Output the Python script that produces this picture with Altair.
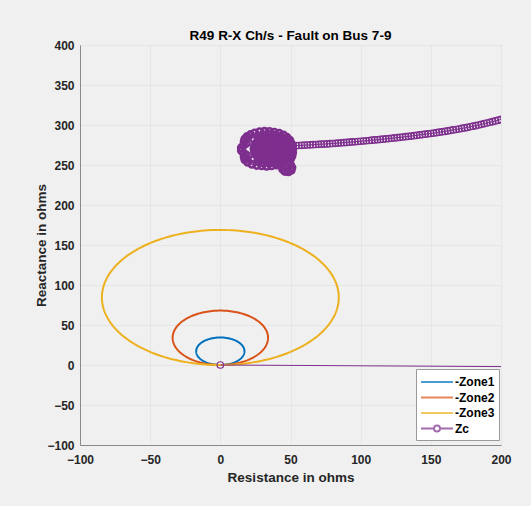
import altair as alt
import pandas as pd

# ---------------- data ----------------
zone_names = ["-Zone1", "-Zone2", "-Zone3"]
zone_colors = ["#0072BD", "#D95319", "#EDB120"]
zone_center_r = [0.0, 0.0, 0.0]
zone_center_x = [17.2, 34.0, 84.4]
zone_radius = [17.2, 34.0, 84.4]

zc_name = "Zc"
zc_color = "#7E2F8E"

# fault start at origin, jump far right (off chart), return along upper curve
zc_start_r = [0, 1500, 300, 250, 220, 206, 203]
zc_start_x = [0, -15, 360, 335, 318, 310.5, 308.6]

zc_curve_r = [200, 198, 196, 194, 192, 190, 188, 186, 184, 182, 180, 178, 176, 174, 172, 170,
              168, 166, 164, 162, 160, 158, 156, 154, 152, 150, 148, 146, 144, 142, 140, 138,
              136, 134, 132, 130, 128, 126, 124, 122, 120, 118, 116, 114, 112, 110, 108, 106,
              104, 102, 100, 98, 96, 94, 92, 90, 88, 86, 84, 82, 80, 78, 76, 74, 72, 70, 68,
              66, 64, 62, 60, 58, 56, 54, 52]
zc_curve_x = [307.0, 306.0, 305.1, 304.2, 303.4, 302.5, 301.7, 300.8, 300.0, 299.2, 298.5,
              297.8, 297.0, 296.3, 295.7, 295.0, 294.4, 293.8, 293.2, 292.6, 292.0, 291.5,
              291.0, 290.4, 289.9, 289.4, 289.0, 288.5, 288.0, 287.6, 287.1, 286.7, 286.2,
              285.8, 285.4, 285.0, 284.6, 284.2, 283.8, 283.4, 283.0, 282.7, 282.3, 282.0,
              281.6, 281.3, 281.0, 280.6, 280.3, 280.0, 279.7, 279.4, 279.1, 278.8, 278.5,
              278.2, 277.9, 277.7, 277.4, 277.1, 276.9, 276.7, 276.4, 276.2, 276.0, 275.8,
              275.6, 275.4, 275.2, 275.0, 274.8, 274.6, 274.4, 274.2, 274.0]

# settling swirl: bumpy outer loop with the small hook below it
zc_outer_r = [51, 50.5, 49.5, 47.5, 45, 42, 38.5, 35, 31.5, 28, 24.5, 21.5, 19, 17.5, 17,
              18.5, 16.5, 15, 15, 16.5, 18.5, 17, 17.5, 19.5, 22.5, 26, 29.5, 33, 36.5, 40,
              43, 44, 44.5, 46, 48.5, 50.5, 51, 50, 49, 50, 51, 51.5, 51.5]
zc_outer_x = [273, 277, 281, 284.5, 287.5, 289.5, 291, 291.8, 292, 291.5, 290, 288, 285.5,
              282.5, 279.5, 277, 274.5, 271.5, 268, 265, 262.5, 260, 256.5, 253.5, 251,
              249.5, 249, 248.5, 249, 250, 251, 248, 244.5, 242, 241.5, 243.5, 247, 250.5,
              254, 257.5, 261, 265, 269]

# second pass just inside the outer loop (left side stays open)
zc_mid_r = [23.7, 27, 30.9, 35, 39.1, 43, 46.3, 48.9, 50.5, 51, 50.5, 48.9, 46.3, 43, 39.1,
            35, 30.9, 27, 23.7]
zc_mid_x = [257.3, 254.4, 252.6, 252, 252.6, 254.4, 257.3, 261, 265.3, 270, 274.7, 279,
            282.7, 285.6, 287.4, 288, 287.4, 285.6, 282.7]

# settling swirl: loops closing in on the final impedance
zc_inner_r = [50.0, 49.6, 48.3, 46.2, 43.5, 40.4, 37.0, 33.6, 30.5, 27.8, 25.7, 24.4, 24.0,
              24.4, 25.7, 27.8, 30.5, 33.6, 37.0, 40.4, 43.5, 46.2, 48.3, 49.6,
              48.0, 47.6, 46.5, 44.8, 42.5, 39.8, 37.0, 34.2, 31.5, 29.2, 27.5, 26.4, 26.0,
              26.4, 27.5, 29.2, 31.5, 34.2, 37.0, 39.8, 42.5, 44.8, 46.5, 47.6,
              46, 45.3, 43.4, 40.4, 37, 33.6, 30.6, 28.7, 28, 28.7, 30.6, 33.6, 37, 40.4, 43.4, 45.3,
              44, 43.5, 42, 39.7, 37, 34.3, 32, 30.5, 30, 30.5, 32, 34.3, 37, 39.7, 42, 43.5,
              42, 41.3, 39.5, 37, 34.5, 32.7, 32, 32.7, 34.5, 37, 39.5, 41.3,
              39.5, 38.8, 37, 35.2, 34.5, 35.2, 37, 38.8, 37]
zc_inner_x = [270, 273.9, 277.5, 280.6, 283.0, 284.5, 285.0, 284.5, 283.0, 280.6, 277.5, 273.9,
              270, 266.1, 262.5, 259.4, 257.0, 255.5, 255.0, 255.5, 257.0, 259.4, 262.5, 266.1,
              270, 273.2, 276.3, 278.8, 280.8, 282.1, 282.5, 282.1, 280.8, 278.8, 276.3, 273.2,
              270, 266.8, 263.8, 261.2, 259.2, 257.9, 257.5, 257.9, 259.2, 261.2, 263.8, 266.8,
              270, 273.8, 277.1, 279.2, 280, 279.2, 277.1, 273.8, 270, 266.2, 262.9, 260.8, 260,
              260.8, 262.9, 266.2,
              270, 272.9, 275.3, 276.9, 277.5, 276.9, 275.3, 272.9, 270, 267.1, 264.7, 263.1,
              262.5, 263.1, 264.7, 267.1,
              270, 272.5, 274.3, 275, 274.3, 272.5, 270, 267.5, 265.7, 265, 265.7, 267.5,
              270, 271.8, 272.5, 271.8, 270, 268.2, 267.5, 268.2, 270]

x_ticks = [-100, -50, 0, 50, 100, 150, 200]
y_ticks = [-100, -50, 0, 50, 100, 150, 200, 250, 300, 350, 400]

legend_names = zone_names + [zc_name]
legend_colors = zone_colors + [zc_color]

# ---------------- styling ----------------
FONT = "Liberation Sans"
TXT = "#262626"
AX = "#8a8a8a"
GRID = "#e6e6e6"

x_scale = alt.Scale(domain=[-100, 200], nice=False, zero=False)
y_scale = alt.Scale(domain=[-100, 400], nice=False, zero=False)

x_axis = alt.Axis(values=x_ticks, title="Resistance in ohms", ticks=False, labelPadding=9,
                  titlePadding=5, labelOverlap=False, labelFlush=False)
y_axis = alt.Axis(values=y_ticks, title="Reactance in ohms", ticks=False, labelPadding=6,
                  titlePadding=-2, labelOverlap=False, labelFlush=False)

X_ENC = alt.X("R:Q", scale=x_scale, axis=x_axis)
Y_ENC = alt.Y("X:Q", scale=y_scale, axis=y_axis)

# ---------------- zone circles ----------------
layers = []
for name, col, cx, cy, r in zip(zone_names, zone_colors, zone_center_r, zone_center_x, zone_radius):
    circ = (
        alt.Chart(alt.sequence(0, 362, 2, as_="deg"))
        .transform_calculate(
            R=f"{cx} + {r}*cos(datum.deg*PI/180)",
            X=f"{cy} + {r}*sin(datum.deg*PI/180)",
        )
        .mark_line(color=col, strokeWidth=2, clip=True)
        .encode(x=X_ENC, y=Y_ENC, order=alt.Order("deg:Q"))
    )
    layers.append(circ)

# ---------------- Zc trajectory ----------------
path_r = zc_start_r + zc_curve_r
path_x = zc_start_x + zc_curve_x
swirl_r = zc_outer_r + zc_mid_r + zc_inner_r
swirl_x = zc_outer_x + zc_mid_x + zc_inner_x
all_r = path_r + swirl_r
all_x = path_x + swirl_x
zc_df = pd.DataFrame({"R": all_r, "X": all_x, "i": list(range(len(all_r))),
                      "part": ["path"] * len(path_r) + ["swirl"] * len(swirl_r)})

zc_line = alt.Chart(zc_df).mark_line(color=zc_color, strokeWidth=1, clip=True).encode(
    x=X_ENC, y=Y_ENC, order=alt.Order("i:Q"),
)
zc_pts = (
    alt.Chart(zc_df)
    .transform_filter("datum.part == 'path'")
    .mark_point(shape="circle", filled=False, color=zc_color, size=42, strokeWidth=1.2,
                opacity=1, clip=True)
    .encode(x=X_ENC, y=Y_ENC)
)
zc_swirl = (
    alt.Chart(zc_df)
    .transform_filter("datum.part == 'swirl'")
    .mark_point(shape="circle", filled=False, color=zc_color, size=42, strokeWidth=2.6,
                opacity=1, clip=True)
    .encode(x=X_ENC, y=Y_ENC)
)
layers += [zc_line, zc_pts, zc_swirl]

# ---------------- legend (entries only, no drawn data) ----------------
line_path = "M-2,0H2"
zc_path = ("M-2,0H-0.375M0.375,0H2M0.375,0A0.375,0.375,0,1,1,-0.375,0"
           "A0.375,0.375,0,1,1,0.375,0")
legend_df = pd.DataFrame({"series": legend_names})
leg = alt.Legend(title=None, orient="none", legendX=336, legendY=324, padding=4,
                 strokeColor="#9a9a9a", fillColor="white", symbolSize=256,
                 symbolOffset=8, labelOffset=9, rowPadding=0.5, symbolStrokeWidth=2,
                 labelFont=FONT, labelFontSize=12, labelFontWeight="bold", labelColor="#000000",
                 cornerRadius=0)
legend_layer = (
    alt.Chart(legend_df)
    .transform_filter("false")
    .mark_point(filled=False, clip=True)
    .encode(
        color=alt.Color("series:N", scale=alt.Scale(domain=legend_names, range=legend_colors), legend=leg),
        shape=alt.Shape("series:N", scale=alt.Scale(domain=legend_names,
                                                    range=[line_path] * 3 + [zc_path]), legend=leg),
    )
)
layers.append(legend_layer)

chart = (
    alt.layer(*layers)
    .properties(
        width=421,
        height=400,
        title=alt.Title("R49 R-X Ch/s - Fault on Bus 7-9", font=FONT, fontSize=13.5,
                        fontWeight="bold", color="#000000", offset=-3, anchor="middle",
                        frame="group"),
        autosize=alt.AutoSizeParams(type="none"),
        padding={"left": 80, "top": 45, "right": 30, "bottom": 61},
        background="#f0f0f0",
    )
    .configure_view(stroke=AX, fill="white", strokeWidth=1)
    .configure_axis(
        labelFont=FONT, labelFontSize=12, labelFontWeight="bold", labelColor=TXT,
        titleFont=FONT, titleFontSize=13.5, titleFontWeight="bold", titleColor=TXT,
        domainColor=AX, gridColor=GRID, gridWidth=1,
    )
)

chart.save("out.html", embed_options={"renderer": "svg", "actions": False})
